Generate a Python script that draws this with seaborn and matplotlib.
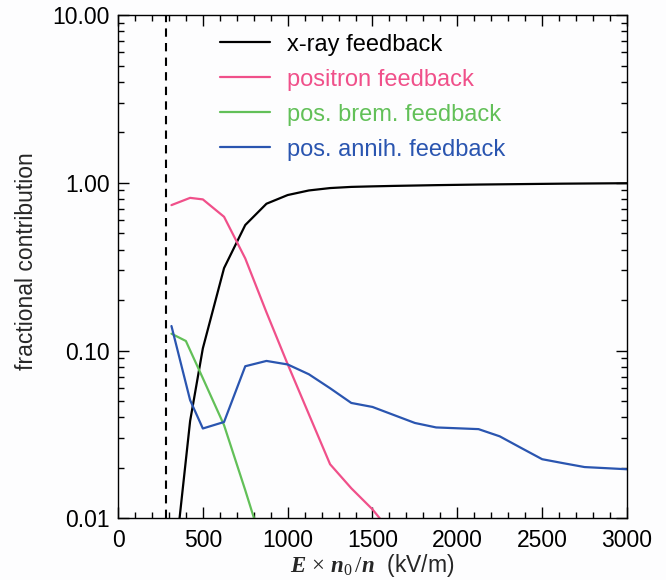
import numpy as np
import pandas as pd
import matplotlib
matplotlib.use("Agg")
import matplotlib.pyplot as plt
from matplotlib.ticker import FixedLocator, FixedFormatter, MultipleLocator, LogLocator, NullFormatter
import seaborn as sns

# Field strength scaled by density (kV/m) and fractional feedback contributions
xray_x = [315, 425, 500, 625, 750, 875, 1000, 1125, 1250, 1375, 1500, 1625,
          1750, 1875, 2000, 2125, 2250, 2375, 2500, 2625, 2750, 2875, 3000]
xray_y = [0.0036, 0.038, 0.103, 0.31, 0.56, 0.75, 0.845, 0.90, 0.93, 0.945, 0.952, 0.958,
          0.963, 0.968, 0.972, 0.976, 0.979, 0.982, 0.985, 0.988, 0.990, 0.992, 0.994]

positron_x = [315, 425, 500, 625, 750, 875, 1000, 1125, 1250, 1375, 1500, 1625]
positron_y = [0.736, 0.813, 0.796, 0.627, 0.354, 0.169, 0.0829, 0.0417, 0.0210, 0.0151, 0.0113, 0.0079]

brem_x = [315, 400, 500, 625, 750, 875]
brem_y = [0.126, 0.114, 0.0684, 0.0359, 0.0147, 0.0058]

annih_x = xray_x
annih_y = [0.140, 0.0506, 0.0343, 0.0375, 0.0806, 0.0867, 0.0826, 0.0722, 0.0596, 0.0487, 0.0461, 0.0413,
           0.0370, 0.0348, 0.0344, 0.0340, 0.0308, 0.0263, 0.0225, 0.0213, 0.0202, 0.0199, 0.0196]

series_labels = ["x-ray feedback", "positron feedback", "pos. brem. feedback", "pos. annih. feedback"]
series_colors = ["#000000", "#f0508a", "#62c058", "#2a55b0"]

threshold_x = 283

y_ticks = [0.01, 0.1, 1.0, 10.0]
y_tick_labels = ["0.01", "0.10", "1.00", "10.00"]
x_ticks = [0, 500, 1000, 1500, 2000, 2500, 3000]

sns.set_theme(style="ticks")
plt.rcParams["font.family"] = ["Liberation Sans", "DejaVu Sans"]
plt.rcParams["mathtext.fontset"] = "custom"
plt.rcParams["mathtext.bf"] = "Liberation Serif:italic:bold"
plt.rcParams["mathtext.it"] = "Liberation Serif:italic"
plt.rcParams["mathtext.rm"] = "Liberation Serif"

fig = plt.figure(figsize=(6.66, 5.80), dpi=100)
fig.patch.set_facecolor("#fdfdfe")
ax = fig.add_axes([0.1772, 0.1064, 0.7642, 0.8677])
ax.set_facecolor("#fdfdfe")

frames = []
for lab, xs, ys in zip(series_labels,
                       [xray_x, positron_x, brem_x, annih_x],
                       [xray_y, positron_y, brem_y, annih_y]):
    frames.append(pd.DataFrame({"field": xs, "fraction": ys, "mechanism": lab}))
df = pd.concat(frames, ignore_index=True)

sns.lineplot(data=df, x="field", y="fraction", hue="mechanism",
             hue_order=series_labels, palette=series_colors,
             linewidth=1.6, ax=ax, sort=False, estimator=None)

ax.axvline(threshold_x, color="black", linestyle=(0, (4, 3)), linewidth=1.5)

ax.set_yscale("log")
ax.set_xlim(0, 3000)
ax.set_ylim(0.01, 10)

ax.yaxis.set_major_locator(FixedLocator(y_ticks))
ax.yaxis.set_major_formatter(FixedFormatter(y_tick_labels))
ax.yaxis.set_minor_locator(LogLocator(base=10, subs=np.arange(2, 10)))
ax.yaxis.set_minor_formatter(NullFormatter())
ax.xaxis.set_major_locator(FixedLocator(x_ticks))
ax.xaxis.set_minor_locator(MultipleLocator(100))

ax.tick_params(which="both", direction="in", top=True, right=True, colors="black", width=1.0)
ax.tick_params(which="major", length=8, labelsize=16.5)
ax.tick_params(which="minor", length=4)
ax.tick_params(axis="x", which="major", pad=8)
ax.tick_params(axis="y", which="major", pad=6)
for sp in ax.spines.values():
    sp.set_color("black")
    sp.set_linewidth(1.0)

ax.set_ylabel("fractional contribution", fontsize=16.5)
ax.yaxis.set_label_coords(-0.157, 0.51)
ax.set_xlabel(r"$\mathbf{E}\,\times\,\mathbf{n}_{\mathit{0}}\,\mathit{/}\mathbf{n}$  (kV/m)", fontsize=16.5)
ax.xaxis.set_label_coords(0.5, -0.066)

leg = ax.legend(loc="upper left", bbox_to_anchor=(0.2004, 0.963), frameon=False,
                fontsize=17, handlelength=2.1, handletextpad=0.75, labelspacing=0.55,
                borderpad=0, borderaxespad=0)
for txt, col in zip(leg.get_texts(), series_colors):
    txt.set_color(col)
for line in leg.get_lines():
    line.set_linewidth(1.6)

fig.savefig("out.png", dpi=100, facecolor=fig.get_facecolor())
